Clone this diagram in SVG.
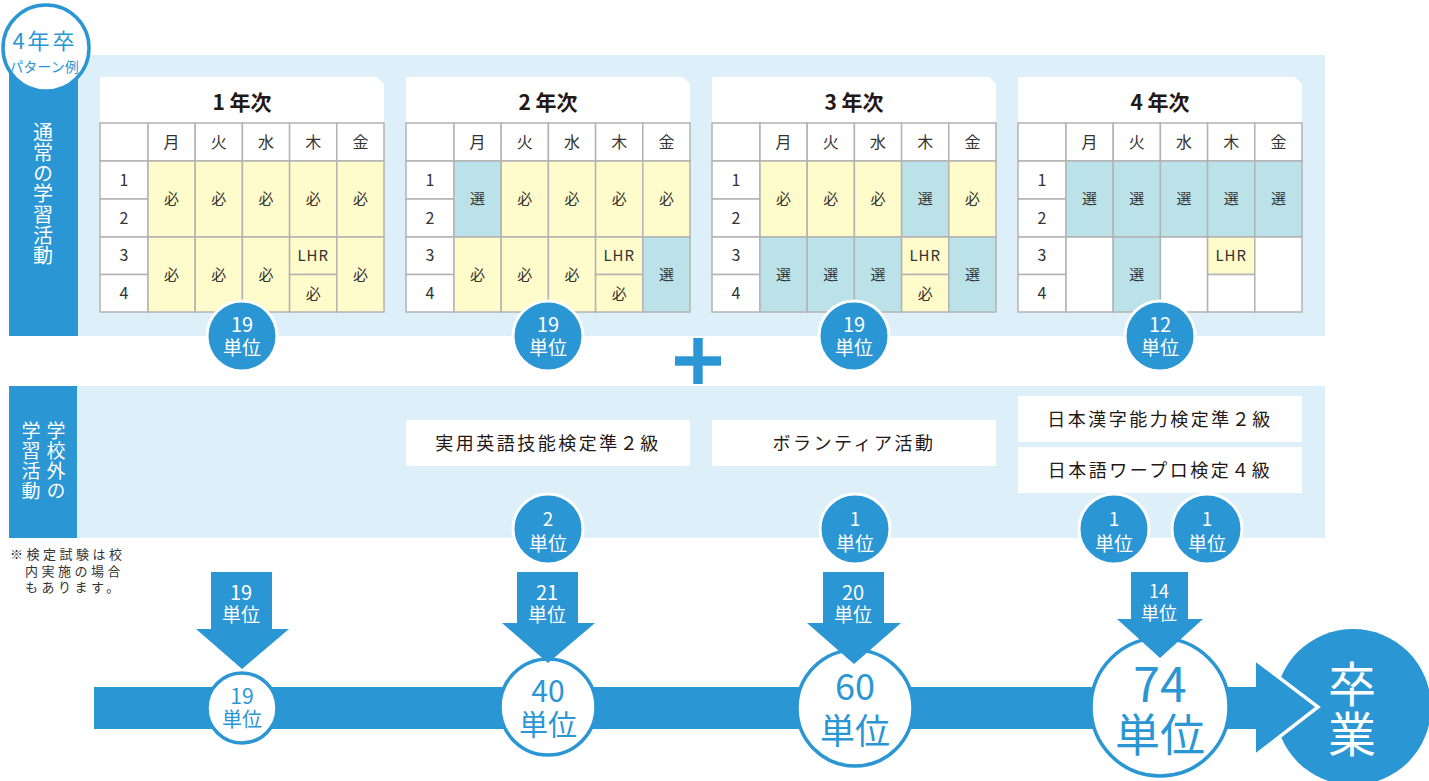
<svg xmlns="http://www.w3.org/2000/svg" xmlns:xlink="http://www.w3.org/1999/xlink" width="1429" height="781" viewBox="0 0 1429 781">
<style>
text{font-family:"Noto Sans CJK JP","Noto Sans",sans-serif}
.p{fill:#DDF0FA}
.b{fill:#2B96D4}
.c{stroke:#B3B3B3;stroke-width:1.5}
.w{fill:#fff}
.y{fill:#FFFBCA}
.t{fill:#BCE2E9}
.ct{font-size:15px;fill:#333;text-anchor:middle}
.hd{font-size:16px;fill:#333;text-anchor:middle}
.ttl{font-size:21px;font-weight:bold;fill:#231815;text-anchor:middle}
.wt{fill:#fff;text-anchor:middle}
.bt{fill:#2B96D4;text-anchor:middle}
.bx{font-size:18px;fill:#231815;text-anchor:middle;letter-spacing:2.5px}
.cred{fill:#2B96D4;stroke:#fff;stroke-width:3}
.prog{fill:#fff;stroke:#2B96D4;stroke-width:3.5}
.vt{fill:#fff;writing-mode:vertical-rl;text-anchor:start}
</style>
<defs>
<g id="frame">
<path class="w" d="M0,0 H277 L284,7 V46 H0 Z"/>
<rect class="w c" x="0" y="46" width="48" height="38"/>
<rect class="w c" x="48" y="46" width="47.2" height="38"/>
<rect class="w c" x="95.2" y="46" width="47.2" height="38"/>
<rect class="w c" x="142.4" y="46" width="47.2" height="38"/>
<rect class="w c" x="189.6" y="46" width="47.2" height="38"/>
<rect class="w c" x="236.8" y="46" width="47.2" height="38"/>
<rect class="w c" x="0" y="84" width="48" height="38"/>
<rect class="w c" x="0" y="122" width="48" height="38"/>
<rect class="w c" x="0" y="160" width="48" height="37.5"/>
<rect class="w c" x="0" y="197.5" width="48" height="37.5"/>
<text class="hd" x="71.6" y="70.5">月</text>
<text class="hd" x="118.8" y="70.5">火</text>
<text class="hd" x="166" y="70.5">水</text>
<text class="hd" x="213.2" y="70.5">木</text>
<text class="hd" x="260.4" y="70.5">金</text>
<text class="hd" x="24" y="108.5">1</text>
<text class="hd" x="24" y="146.5">2</text>
<text class="hd" x="24" y="184">3</text>
<text class="hd" x="24" y="221.5">4</text>
</g>
</defs>

<!-- panels -->
<g id="panels">
<rect class="p" x="78" y="55" width="1247" height="281"/>
<rect class="b" x="9" y="50" width="69" height="286"/>
<rect class="p" x="77" y="386" width="1248" height="152"/>
<rect class="b" x="9" y="386" width="68" height="152"/>
</g>

<g id="badge">
<circle cx="46" cy="48" r="43" fill="#fff" stroke="#2B96D4" stroke-width="3.5"/>
<text class="bt" x="45" y="49" font-size="22" letter-spacing="3">4年卒</text>
<text class="bt" x="44" y="72" font-size="14">パターン例</text>
</g>

<g id="label-regular">
<text class="vt" x="43" y="122" font-size="20" letter-spacing="0.6">通常の学習活動</text>
</g>

<g id="label-outside">
<text class="vt" font-size="19" letter-spacing="1"><tspan x="56" y="421">学校外の</tspan><tspan x="31" y="421">学習活動</tspan></text>
</g>

<!-- Table year 1 -->
<g id="year1" transform="translate(100,77)">
<use xlink:href="#frame"/>
<text class="ttl" x="142" y="33">1 年次</text>
<rect class="y c" x="48" y="84" width="47.2" height="76"/>
<rect class="y c" x="95.2" y="84" width="47.2" height="76"/>
<rect class="y c" x="142.4" y="84" width="47.2" height="76"/>
<rect class="y c" x="189.6" y="84" width="47.2" height="76"/>
<rect class="y c" x="236.8" y="84" width="47.2" height="76"/>
<rect class="y c" x="48" y="160" width="47.2" height="75"/>
<rect class="y c" x="95.2" y="160" width="47.2" height="75"/>
<rect class="y c" x="142.4" y="160" width="47.2" height="75"/>
<rect class="y c" x="189.6" y="160" width="47.2" height="37.5"/>
<rect class="y c" x="189.6" y="197.5" width="47.2" height="37.5"/>
<rect class="y c" x="236.8" y="160" width="47.2" height="75"/>
<text class="ct" x="71.6" y="127">必</text>
<text class="ct" x="118.8" y="127">必</text>
<text class="ct" x="166" y="127">必</text>
<text class="ct" x="213.2" y="127">必</text>
<text class="ct" x="260.4" y="127">必</text>
<text class="ct" x="71.6" y="203">必</text>
<text class="ct" x="118.8" y="203">必</text>
<text class="ct" x="166" y="203">必</text>
<text class="ct" x="213.2" y="184" letter-spacing="1">LHR</text>
<text class="ct" x="213.2" y="221.5">必</text>
<text class="ct" x="260.4" y="203">必</text>
</g>

<!-- Table year 2 -->
<g id="year2" transform="translate(406,77)">
<use xlink:href="#frame"/>
<text class="ttl" x="142" y="33">2 年次</text>
<rect class="t c" x="48" y="84" width="47.2" height="76"/>
<rect class="y c" x="95.2" y="84" width="47.2" height="76"/>
<rect class="y c" x="142.4" y="84" width="47.2" height="76"/>
<rect class="y c" x="189.6" y="84" width="47.2" height="76"/>
<rect class="y c" x="236.8" y="84" width="47.2" height="76"/>
<rect class="y c" x="48" y="160" width="47.2" height="75"/>
<rect class="y c" x="95.2" y="160" width="47.2" height="75"/>
<rect class="y c" x="142.4" y="160" width="47.2" height="75"/>
<rect class="y c" x="189.6" y="160" width="47.2" height="37.5"/>
<rect class="y c" x="189.6" y="197.5" width="47.2" height="37.5"/>
<rect class="t c" x="236.8" y="160" width="47.2" height="75"/>
<text class="ct" x="71.6" y="127">選</text>
<text class="ct" x="118.8" y="127">必</text>
<text class="ct" x="166" y="127">必</text>
<text class="ct" x="213.2" y="127">必</text>
<text class="ct" x="260.4" y="127">必</text>
<text class="ct" x="71.6" y="203">必</text>
<text class="ct" x="118.8" y="203">必</text>
<text class="ct" x="166" y="203">必</text>
<text class="ct" x="213.2" y="184" letter-spacing="1">LHR</text>
<text class="ct" x="213.2" y="221.5">必</text>
<text class="ct" x="260.4" y="203">選</text>
</g>

<!-- Table year 3 -->
<g id="year3" transform="translate(712,77)">
<use xlink:href="#frame"/>
<text class="ttl" x="142" y="33">3 年次</text>
<rect class="y c" x="48" y="84" width="47.2" height="76"/>
<rect class="y c" x="95.2" y="84" width="47.2" height="76"/>
<rect class="y c" x="142.4" y="84" width="47.2" height="76"/>
<rect class="t c" x="189.6" y="84" width="47.2" height="76"/>
<rect class="y c" x="236.8" y="84" width="47.2" height="76"/>
<rect class="t c" x="48" y="160" width="47.2" height="75"/>
<rect class="t c" x="95.2" y="160" width="47.2" height="75"/>
<rect class="t c" x="142.4" y="160" width="47.2" height="75"/>
<rect class="y c" x="189.6" y="160" width="47.2" height="37.5"/>
<rect class="y c" x="189.6" y="197.5" width="47.2" height="37.5"/>
<rect class="t c" x="236.8" y="160" width="47.2" height="75"/>
<text class="ct" x="71.6" y="127">必</text>
<text class="ct" x="118.8" y="127">必</text>
<text class="ct" x="166" y="127">必</text>
<text class="ct" x="213.2" y="127">選</text>
<text class="ct" x="260.4" y="127">必</text>
<text class="ct" x="71.6" y="203">選</text>
<text class="ct" x="118.8" y="203">選</text>
<text class="ct" x="166" y="203">選</text>
<text class="ct" x="213.2" y="184" letter-spacing="1">LHR</text>
<text class="ct" x="213.2" y="221.5">必</text>
<text class="ct" x="260.4" y="203">選</text>
</g>

<!-- Table year 4 -->
<g id="year4" transform="translate(1018,77)">
<use xlink:href="#frame"/>
<text class="ttl" x="142" y="33">4 年次</text>
<rect class="t c" x="48" y="84" width="47.2" height="76"/>
<rect class="t c" x="95.2" y="84" width="47.2" height="76"/>
<rect class="t c" x="142.4" y="84" width="47.2" height="76"/>
<rect class="t c" x="189.6" y="84" width="47.2" height="76"/>
<rect class="t c" x="236.8" y="84" width="47.2" height="76"/>
<rect class="w c" x="48" y="160" width="47.2" height="75"/>
<rect class="t c" x="95.2" y="160" width="47.2" height="75"/>
<rect class="w c" x="142.4" y="160" width="47.2" height="75"/>
<rect class="y c" x="189.6" y="160" width="47.2" height="37.5"/>
<rect class="w c" x="189.6" y="197.5" width="47.2" height="37.5"/>
<rect class="w c" x="236.8" y="160" width="47.2" height="75"/>
<text class="ct" x="71.6" y="127">選</text>
<text class="ct" x="118.8" y="127">選</text>
<text class="ct" x="166" y="127">選</text>
<text class="ct" x="213.2" y="127">選</text>
<text class="ct" x="260.4" y="127">選</text>
<text class="ct" x="118.8" y="203">選</text>
<text class="ct" x="213.2" y="184" letter-spacing="1">LHR</text>
</g>

<!-- credits under tables -->
<g id="credit-y1"><circle class="cred" cx="242" cy="336" r="35"/><text class="wt"><tspan x="242" y="332" font-size="20">19</tspan><tspan x="242" y="355" font-size="19">単位</tspan></text></g>
<g id="credit-y2"><circle class="cred" cx="548" cy="336" r="35"/><text class="wt"><tspan x="548" y="332" font-size="20">19</tspan><tspan x="548" y="355" font-size="19">単位</tspan></text></g>
<g id="credit-y3"><circle class="cred" cx="854" cy="336" r="35"/><text class="wt"><tspan x="854" y="332" font-size="20">19</tspan><tspan x="854" y="355" font-size="19">単位</tspan></text></g>
<g id="credit-y4"><circle class="cred" cx="1160" cy="336" r="35"/><text class="wt"><tspan x="1160" y="332" font-size="20">12</tspan><tspan x="1160" y="355" font-size="19">単位</tspan></text></g>

<g id="plus">
<rect class="b" x="693.3" y="338" width="9.4" height="46"/>
<rect class="b" x="675" y="356.3" width="46" height="9.4"/>
</g>

<!-- outside activities -->
<g id="act-eiken"><rect class="w" x="406" y="420" width="284" height="46"/><text class="bx" x="548" y="449.5">実用英語技能検定準２級</text></g>
<g id="act-volunteer"><rect class="w" x="712" y="420" width="284" height="46"/><text class="bx" x="854" y="449.5">ボランティア活動</text></g>
<g id="act-kanji"><rect class="w" x="1018" y="396" width="284" height="46"/><text class="bx" x="1160" y="426">日本漢字能力検定準２級</text></g>
<g id="act-wapro"><rect class="w" x="1018" y="447" width="284" height="46"/><text class="bx" x="1160" y="477">日本語ワープロ検定４級</text></g>

<g id="credit-eiken"><circle class="cred" cx="548" cy="529" r="35"/><text class="wt" font-size="19"><tspan x="548" y="526">2</tspan><tspan x="548" y="551">単位</tspan></text></g>
<g id="credit-volunteer"><circle class="cred" cx="855" cy="529" r="35"/><text class="wt" font-size="19"><tspan x="855" y="526">1</tspan><tspan x="855" y="551">単位</tspan></text></g>
<g id="credit-kanji"><circle class="cred" cx="1114" cy="529" r="35"/><text class="wt" font-size="19"><tspan x="1114" y="526">1</tspan><tspan x="1114" y="551">単位</tspan></text></g>
<g id="credit-wapro"><circle class="cred" cx="1207" cy="529" r="35"/><text class="wt" font-size="19"><tspan x="1207" y="526">1</tspan><tspan x="1207" y="551">単位</tspan></text></g>

<g id="note">
<text font-size="13" fill="#333" letter-spacing="3.5"><tspan x="10" y="559">※検定試験は校</tspan><tspan x="25" y="576">内実施の場合</tspan><tspan x="25" y="592">もあります。</tspan></text>
</g>

<!-- graduation -->
<g id="graduation">
<circle class="b" cx="1353" cy="707" r="78"/>
<text class="wt" font-size="48"><tspan x="1352" y="702">卒</tspan><tspan x="1352" y="752">業</tspan></text>
</g>

<!-- connectors -->
<g id="connectors">
<rect class="b" x="94" y="687" width="1164" height="42"/>
<polygon class="b" points="1256,660 1318,707 1256,755"/>
<polyline points="1256,660 1318,707 1256,755" fill="none" stroke="#fff" stroke-width="3.5" stroke-linejoin="miter"/>
</g>

<g id="total-19"><circle class="prog" cx="242" cy="708" r="35"/><text class="bt"><tspan x="242" y="704" font-size="21">19</tspan><tspan x="242" y="727" font-size="20">単位</tspan></text></g>
<g id="total-40"><circle class="prog" cx="548" cy="707" r="48"/><text class="bt"><tspan x="548" y="702" font-size="30">40</tspan><tspan x="548" y="736" font-size="29">単位</tspan></text></g>
<g id="total-60"><circle class="prog" cx="855" cy="708" r="58"/><text class="bt"><tspan x="855" y="700" font-size="36">60</tspan><tspan x="855" y="744" font-size="35">単位</tspan></text></g>
<g id="total-74"><circle class="prog" cx="1160" cy="707" r="69"/><text class="bt"><tspan x="1160" y="702" font-size="48">74</tspan><tspan x="1160" y="752" font-size="45">単位</tspan></text></g>

<g id="arrows">
<polygon class="b" points="211,572 272,572 272,629 289,629 242,669 196,629 211,629"/>
<polygon class="b" points="517,572 578,572 578,623 595,623 548,663 502,623 517,623"/>
<polygon class="b" points="823,572 884,572 884,623 901,623 854,664 807,623 823,623"/>
<polygon class="b" points="1131,572 1188,572 1188,619 1203,619 1160,658 1117,619 1131,619"/>
<text class="wt"><tspan x="241" y="600" font-size="20">19</tspan><tspan x="241" y="622" font-size="19">単位</tspan></text>
<text class="wt"><tspan x="547" y="600" font-size="20">21</tspan><tspan x="547" y="622" font-size="19">単位</tspan></text>
<text class="wt"><tspan x="853" y="600" font-size="20">20</tspan><tspan x="853" y="622" font-size="19">単位</tspan></text>
<text class="wt"><tspan x="1159" y="598" font-size="18">14</tspan><tspan x="1159" y="620" font-size="18">単位</tspan></text>
</g>
</svg>
